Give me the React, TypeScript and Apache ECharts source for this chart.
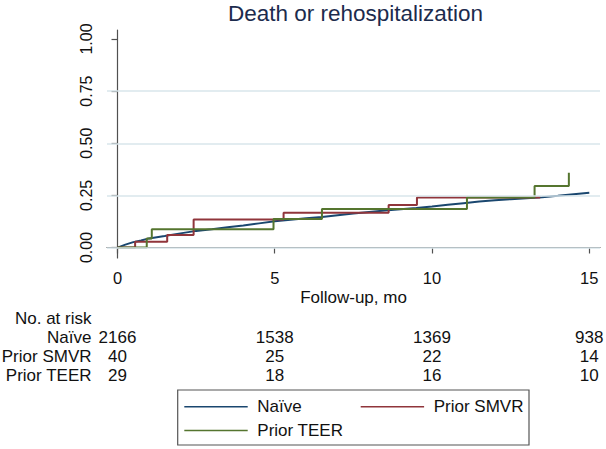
import { useEffect, useRef } from "react";
import * as echarts from "echarts";

const chartTitle = "Death or rehospitalization";
const xAxisTitle = "Follow-up, mo";
const riskHeader = "No. at risk";
const xTicks = [0, 5, 10, 15];
const gridValues = [0, 0.25, 0.5, 0.75];

const naiveTimes = [0, 0.25, 0.5, 0.75, 1, 1.5, 2, 2.5, 3, 3.5, 4, 4.5, 5, 5.5, 6, 6.5, 7, 7.5, 8, 8.5, 9, 9.5, 10, 10.5, 11, 11.5, 12, 12.5, 13, 13.5, 14, 14.5, 15];
const naiveValues = [0, 0.014, 0.026, 0.034, 0.044, 0.055, 0.068, 0.08, 0.088, 0.097, 0.106, 0.116, 0.126, 0.133, 0.14, 0.147, 0.155, 0.163, 0.171, 0.178, 0.184, 0.19, 0.197, 0.205, 0.213, 0.221, 0.227, 0.232, 0.237, 0.241, 0.248, 0.256, 0.263];

const smvrTimes = [0, 0.56, 1.58, 2.42, 5.28, 8.62, 9.52, 13.44];
const smvrValues = [0, 0.028, 0.06, 0.135, 0.167, 0.204, 0.24, 0.24];

const teerTimes = [0, 0.93, 1.09, 4.96, 6.5, 11.11, 13.26, 14.35];
const teerValues = [0, 0.044, 0.088, 0.137, 0.185, 0.24, 0.295, 0.359];

const groupNames = ["Naïve", "Prior SMVR", "Prior TEER"];
const riskTimes = [0, 5, 10, 15];
const naiveAtRisk = [2166, 1538, 1369, 938];
const smvrAtRisk = [40, 25, 22, 14];
const teerAtRisk = [29, 18, 16, 10];

const colors = ["#1a476f", "#90353b", "#55752f"];
const FONT = "'Liberation Sans', Arial, sans-serif";

const pairs = (xs: number[], ys: number[]) => xs.map((x, i) => [x, ys[i]]);

export default function App() {
  const ref = useRef<HTMLDivElement>(null);
  useEffect(() => {
    if (!ref.current) return;
    const chart = echarts.init(ref.current, null, { renderer: "svg" });
    const axisColor = "#505050";
    chart.setOption({
      animation: false,
      backgroundColor: "#ffffff",
      textStyle: { fontFamily: FONT },
      grid: [
        { left: 107, right: 6, top: 30, bottom: 191 },
        { left: 117.5, right: 16.8, top: 39, bottom: 201.5 },
      ],
      xAxis: [
        {
          type: "value", gridIndex: 0, min: -0.334, max: 15.34,
          axisLine: { show: true, lineStyle: { color: axisColor, width: 1.2 } },
          axisTick: { show: false }, axisLabel: { show: false }, splitLine: { show: false },
        },
        {
          type: "value", gridIndex: 1, min: 0, max: 15, interval: 5, offset: 10.5,
          axisLine: { show: false },
          axisTick: { show: true, length: 6, lineStyle: { color: axisColor, width: 1.2 } },
          axisLabel: { show: true, margin: 11, fontSize: 16.5, color: "#111", fontFamily: FONT },
          splitLine: { show: false },
        },
      ],
      yAxis: [
        {
          type: "value", gridIndex: 0, min: -0.05, max: 1.043,
          axisLine: { show: true, lineStyle: { color: axisColor, width: 1.2 } },
          axisTick: { show: false }, axisLabel: { show: false }, splitLine: { show: false },
        },
        {
          type: "value", gridIndex: 1, min: 0, max: 1, interval: 0.25, offset: 11,
          axisLine: { show: false },
          axisTick: { show: true, length: 6, lineStyle: { color: axisColor, width: 1.2 } },
          axisLabel: {
            show: true, rotate: 90, margin: 12, fontSize: 16, color: "#111", fontFamily: FONT,
            formatter: (v: number) => v.toFixed(2),
          },
          splitLine: { show: false },
        },
      ],
      series: [
        {
          name: groupNames[0], type: "line", xAxisIndex: 0, yAxisIndex: 0, z: 2,
          data: pairs(naiveTimes, naiveValues), showSymbol: false, symbol: "none",
          lineStyle: { color: colors[0], width: 2 },
          markLine: {
            silent: true, symbol: "none", label: { show: false },
            lineStyle: { color: "#d8e6eb", width: 1.5, type: "solid" },
            emphasis: { disabled: true },
            data: gridValues.map((v) => ({ yAxis: v })),
          },
        },
        {
          name: groupNames[1], type: "line", step: "end", xAxisIndex: 0, yAxisIndex: 0, z: 3,
          data: pairs(smvrTimes, smvrValues), showSymbol: false, symbol: "none",
          lineStyle: { color: colors[1], width: 2 },
        },
        {
          name: groupNames[2], type: "line", step: "end", xAxisIndex: 0, yAxisIndex: 0, z: 4,
          data: pairs(teerTimes, teerValues), showSymbol: false, symbol: "none",
          lineStyle: { color: colors[2], width: 2 },
        },
      ],
    });

    const px = (t: number) => chart.convertToPixel({ xAxisIndex: 1 }, t) as number;
    const plotLeft = chart.convertToPixel({ xAxisIndex: 0 }, -0.334) as number;
    const plotRight = chart.convertToPixel({ xAxisIndex: 0 }, 15.34) as number;
    const textBase = { fontFamily: FONT, fill: "#111" };
    const graphics: any[] = [];
    graphics.push({
      type: "text", x: (plotLeft + plotRight) / 2 + 2, y: 13,
      style: { ...textBase, text: chartTitle, fontSize: 22.5, fill: "#1c2b4d", textAlign: "center", textVerticalAlign: "middle" },
    });
    graphics.push({
      type: "text", x: (plotLeft + plotRight) / 2, y: 297,
      style: { ...textBase, text: xAxisTitle, fontSize: 17, textAlign: "center", textVerticalAlign: "middle" },
    });
    const rowY = [337.5, 356.5, 375.5];
    graphics.push({
      type: "text", x: 91.5, y: 318.7,
      style: { ...textBase, text: riskHeader, fontSize: 17, textAlign: "right", textVerticalAlign: "middle" },
    });
    const atRisk = [naiveAtRisk, smvrAtRisk, teerAtRisk];
    groupNames.forEach((name, gi) => {
      graphics.push({
        type: "text", x: 91.5, y: rowY[gi],
        style: { ...textBase, text: name, fontSize: 17, textAlign: "right", textVerticalAlign: "middle" },
      });
      riskTimes.forEach((t, ti) => {
        graphics.push({
          type: "text", x: px(t), y: rowY[gi],
          style: { ...textBase, text: String(atRisk[gi][ti]), fontSize: 17, textAlign: "center", textVerticalAlign: "middle" },
        });
      });
    });
    // legend box
    graphics.push({
      type: "rect", shape: { x: 177.7, y: 390, width: 351.3, height: 55 },
      style: { fill: "#ffffff", stroke: "#555", lineWidth: 1.2 },
    });
    const legendItems = [
      { lx: 184.3, y: 406.7 },
      { lx: 360.7, y: 406.7 },
      { lx: 184.3, y: 430.5 },
    ];
    legendItems.forEach((it, i) => {
      graphics.push({
        type: "line", shape: { x1: it.lx, y1: it.y, x2: it.lx + 63.4, y2: it.y },
        style: { stroke: colors[i], lineWidth: 1.6 },
      });
      graphics.push({
        type: "text", x: it.lx + 73, y: it.y,
        style: { ...textBase, text: groupNames[i], fontSize: 17, textAlign: "left", textVerticalAlign: "middle" },
      });
    });
    chart.setOption({ graphic: graphics });

    return () => chart.dispose();
  }, []);
  return (
    <div
      ref={ref}
      style={{ position: "fixed", left: 0, top: 0, width: 606, height: 449, background: "#fff" }}
    />
  );
}
